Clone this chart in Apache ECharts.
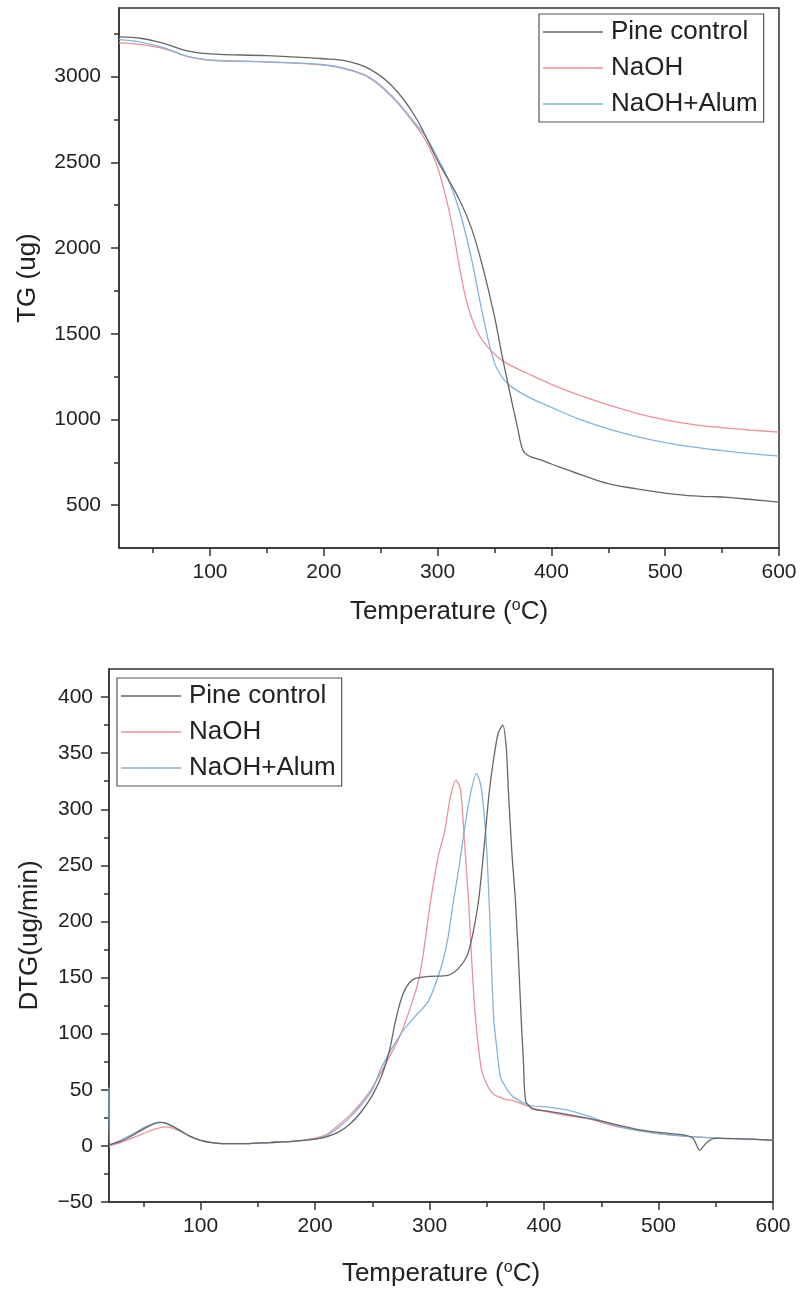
<!DOCTYPE html>
<html>
<head>
<meta charset="utf-8">
<script src="https://cdn.jsdelivr.net/npm/echarts@6/dist/echarts.min.js"></script>
<style>
html,body{margin:0;padding:0;background:#fff;}
#c{width:801px;height:1292px;}
</style>
</head>
<body>
<div id="c"></div>
<script>
// ---------- TG (top) ----------
const seriesNames = ['Pine control', 'NaOH', 'NaOH+Alum'];

const tgPineT = [20,40,60,80,100,150,200,220,240,260,280,300,320,330,340,350,357,365,370,375,380,390,400,425,450,475,500,520,540,555,580,600];
const tgPineV = [3232,3222,3192,3150,3132,3122,3104,3090,3045,2945,2770,2510,2270,2110,1880,1600,1360,1110,960,820,788,765,740,680,625,595,570,555,550,545,530,518];

const tgNaohT = [20,40,60,80,100,150,200,220,240,260,280,290,300,310,315,320,325,330,335,340,350,360,380,400,425,450,475,500,525,550,575,600];
const tgNaohV = [3196,3186,3162,3118,3095,3085,3067,3042,2992,2880,2720,2620,2470,2220,2050,1860,1700,1590,1510,1455,1380,1330,1265,1205,1140,1085,1035,997,970,952,938,926];

const tgAlumT = [20,40,60,80,100,150,200,220,240,260,280,290,300,310,320,330,340,350,358,365,380,400,425,450,475,500,525,550,575,600];
const tgAlumV = [3215,3200,3167,3118,3097,3086,3069,3045,2996,2886,2730,2645,2525,2390,2200,1930,1600,1330,1235,1190,1130,1070,1000,945,900,865,838,818,800,786];

// ---------- DTG (bottom) ----------
const dtgPineT = [20,30,40,50,60,65,70,80,90,100,110,120,140,160,180,200,210,220,230,240,250,258,265,270,275,280,287,300,316,325,333,338,343,348,352,356,360,364,367,369,372,375,378,380,382,384,390,403,420,450,480,500,520,530,536,542,550,580,600];
const dtgPineV = [1,4,9,15,20,21,20,15,9,5,3,2,2,3,4,6,8,12,19,30,45,62,85,110,130,142,149,151,152,158,170,190,220,270,314,345,368,375,355,314,260,219,160,114,75,40,33,31,28,22,15,12,10,7,-4,3,7,6,5];

const dtgNaohT = [20,30,40,50,60,70,80,90,100,110,120,140,160,180,200,210,220,230,240,250,260,275,291,301,308,313,318,323,327,330,334,339,345,350,356,365,374,390,400,420,440,460,480,500,520,550,580,600];
const dtgNaohV = [0,3,7,11,15,17,14,9,5,3,2,2,3,4,7,10,18,27,38,52,70,100,150,219,260,279,310,326,318,279,219,129,70,55,46,42,40,34,31,27,24,18,14,11,9,7,6,5];

const dtgAlumT = [20,20.6,30,40,50,60,65,70,80,90,100,110,120,140,160,180,200,210,220,230,240,250,258,275,287,299,310,316,321,326,330,335,341,345,349,352,356,359,362,368,374,388,400,420,440,460,480,500,520,550,580,600];
const dtgAlumV = [52,1,5,10,16,20,21,20,15,9,5,3,2,2,3,4,6,9,16,25,36,50,70,100,115,129,159,185,219,250,279,310,332,320,279,219,114,85,61,50,43,36,35,32,26,19,14,11,9,7,6,5];

// ---------- ticks ----------
const xMajor = [100,200,300,400,500,600];
const xMinor = [50,150,250,350,450,550];
const tgMajor = [500,1000,1500,2000,2500,3000];
const tgMinor = [750,1250,1750,2250,2750,3250];
const dtgMajor = [-50,0,50,100,150,200,250,300,350,400];
const dtgMinor = [-25,25,75,125,175,225,275,325,375];

const colors = ['#666666', '#e8929a', '#84b3dc'];
const FONT = 'Liberation Sans, Arial, sans-serif';

function zip(t, v){ return t.map((x,i)=>[x, v[i]]); }

const axisLineStyle = {color:'#333', width:1.5};

function majorX(grid, nameGap){
  return {
    type:'value', gridIndex:grid, min:20, max:600,
    name:'Temperature ({sup|o}C)', nameLocation:'middle', nameGap:nameGap,
    nameTextStyle:{fontFamily:FONT, fontSize:26, color:'#222',
      rich:{sup:{fontFamily:FONT, fontSize:16, color:'#222', verticalAlign:'top', padding:[0,0,12,0]}}},
    axisLine:{show:true, onZero:false, lineStyle:axisLineStyle},
    axisTick:{show:true, length:8, customValues:xMajor, lineStyle:axisLineStyle},
    axisLabel:{customValues:xMajor, fontFamily:FONT, fontSize:21, color:'#222', margin:14},
    splitLine:{show:false}
  };
}
function minorX(grid){
  return {
    type:'value', gridIndex:grid, min:20, max:600, position:'bottom',
    axisLine:{show:false, onZero:false},
    axisTick:{show:true, length:5, customValues:xMinor, lineStyle:axisLineStyle},
    axisLabel:{show:false}, splitLine:{show:false}
  };
}
function majorY(grid, min, max, ticks, name, nameGap, margin){
  return {
    type:'value', gridIndex:grid, min:min, max:max,
    name:name, nameLocation:'middle', nameGap:nameGap,
    nameTextStyle:{fontFamily:FONT, fontSize:26, color:'#222'},
    axisLine:{show:true, onZero:false, lineStyle:axisLineStyle},
    axisTick:{show:true, length:8, customValues:ticks, lineStyle:axisLineStyle},
    axisLabel:{customValues:ticks, fontFamily:FONT, fontSize:21, color:'#222', margin:margin,
      formatter:function(v){ return v < 0 ? '\u2212' + Math.abs(v) : String(v); }},
    splitLine:{show:false}
  };
}
function minorY(grid, min, max, ticks){
  return {
    type:'value', gridIndex:grid, min:min, max:max, position:'left',
    axisLine:{show:false, onZero:false},
    axisTick:{show:true, length:5, customValues:ticks, lineStyle:axisLineStyle},
    axisLabel:{show:false}, splitLine:{show:false}
  };
}

function legendCfg(left, top){
  return {
    orient:'vertical', left:left, top:top,
    data:seriesNames,
    icon:'rect', itemWidth:60, itemHeight:1.5, itemGap:6,
    borderColor:'#555', borderWidth:1.2, padding:[3,6,3,4],
    backgroundColor:'#fff',
    textStyle:{fontFamily:FONT, fontSize:26, color:'#222', lineHeight:30, padding:[0,0,0,3]},
    selectedMode:false
  };
}

function mkSeries(name, idx, data, xi, yi, sm){
  return {
    name:name, type:'line', data:data, xAxisIndex:xi, yAxisIndex:yi,
    showSymbol:false, symbol:'none', smooth:sm,
    lineStyle:{color:colors[idx], width:1.3}, itemStyle:{color:colors[idx]},
    animation:false, z: idx === 0 ? 3 : 2
  };
}

const option = {
  animation:false,
  backgroundColor:'#fff',
  grid:[
    {left:119, right:22, top:8, height:540, show:true, borderColor:'#333', borderWidth:1.5, backgroundColor:'transparent'},
    {left:109, right:28, top:669, height:533, show:true, borderColor:'#333', borderWidth:1.5, backgroundColor:'transparent'}
  ],
  xAxis:[ majorX(0, 50), minorX(0), majorX(1, 58), minorX(1) ],
  yAxis:[
    majorY(0, 250, 3400, tgMajor, 'TG (ug)', 78, 18), minorY(0, 250, 3400, tgMinor),
    majorY(1, -50, 425, dtgMajor, 'DTG(ug/min)', 66, 16), minorY(1, -50, 425, dtgMinor)
  ],
  legend:[ legendCfg(539, 14), legendCfg(117, 678) ],
  series:[
    mkSeries('Pine control', 0, zip(tgPineT, tgPineV), 0, 0, 0.4),
    mkSeries('NaOH', 1, zip(tgNaohT, tgNaohV), 0, 0, 0.4),
    mkSeries('NaOH+Alum', 2, zip(tgAlumT, tgAlumV), 0, 0, 0.4),
    mkSeries('Pine control', 0, zip(dtgPineT, dtgPineV), 2, 2, 0.25),
    mkSeries('NaOH', 1, zip(dtgNaohT, dtgNaohV), 2, 2, 0.25),
    mkSeries('NaOH+Alum', 2, zip(dtgAlumT, dtgAlumV), 2, 2, 0.25)
  ]
};

const chart = echarts.init(document.getElementById('c'), null, {renderer:'canvas'});
chart.setOption(option);
</script>
</body>
</html>
